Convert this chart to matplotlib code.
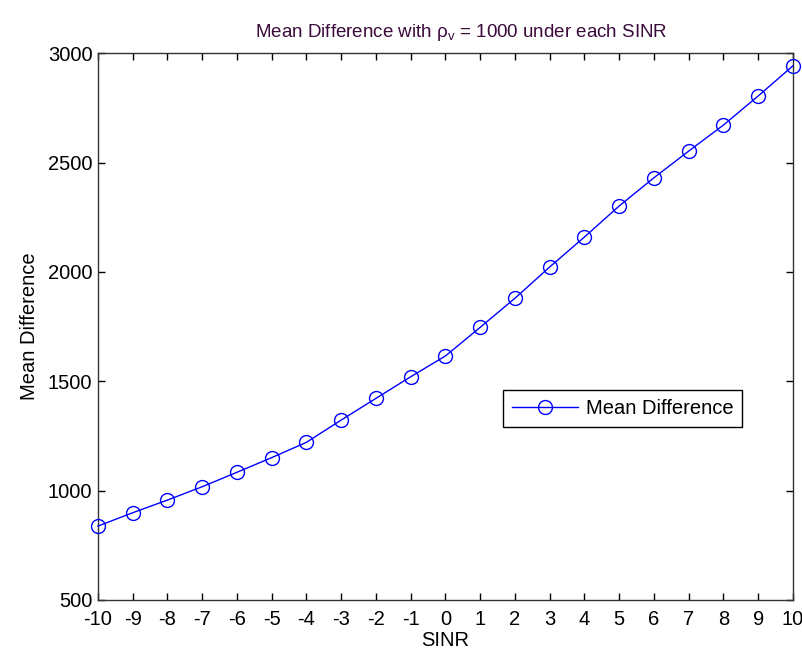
import numpy as np
import matplotlib.pyplot as plt

plt.rcParams['font.family'] = ['Liberation Sans', 'DejaVu Sans']
plt.rcParams['axes.unicode_minus'] = False
plt.rcParams['mathtext.default'] = 'regular'

# SINR sweep and mean difference values
sinr = list(range(-10, 11))
mean_diff = [838, 899, 957, 1018, 1084, 1151, 1221, 1323, 1422, 1521,
             1616, 1747, 1880, 2023, 2160, 2302, 2431, 2553, 2672, 2805, 2943]

x_ticks = list(range(-10, 11))
y_ticks = [500, 1000, 1500, 2000, 2500, 3000]

fig = plt.figure(figsize=(8.03, 6.56), dpi=100)
ax = fig.add_axes([0.122, 0.0854, 0.8655, 0.8333])

ax.plot(sinr, mean_diff, color='#0000ff', lw=1.0, marker='o',
        markersize=10, markerfacecolor='none', markeredgecolor='#0000ff',
        markeredgewidth=1.0, label='Mean Difference', clip_on=False, zorder=3)

ax.set_xlim(-10, 10)
ax.set_ylim(500, 3000)
ax.set_xticks(x_ticks)
ax.set_yticks(y_ticks)
ax.tick_params(direction='in', length=5, width=1, top=True, right=True,
               labelsize=14.5, colors='black')
ax.tick_params(axis='x', pad=7)
ax.tick_params(axis='y', pad=4)
for sp in ax.spines.values():
    sp.set_linewidth(1.0)
    sp.set_color('#333333')

ax.set_xlabel('SINR', fontsize=14.5, labelpad=2)
ax.set_ylabel('Mean Difference', fontsize=14.5, labelpad=6)
ax.set_title('Mean Difference with ρ$_v$ = 1000 under each SINR',
             fontsize=13.5, pad=12, color='#3a0a3a', x=0.523)

leg = ax.legend(loc='center right', bbox_to_anchor=(0.927, 0.351),
                fancybox=False, edgecolor='black', framealpha=1,
                fontsize=14.5, handlelength=3.3, handletextpad=0.35,
                borderpad=0.45, borderaxespad=0)
leg.get_frame().set_linewidth(1.0)

fig.savefig('out.png', dpi=100)
